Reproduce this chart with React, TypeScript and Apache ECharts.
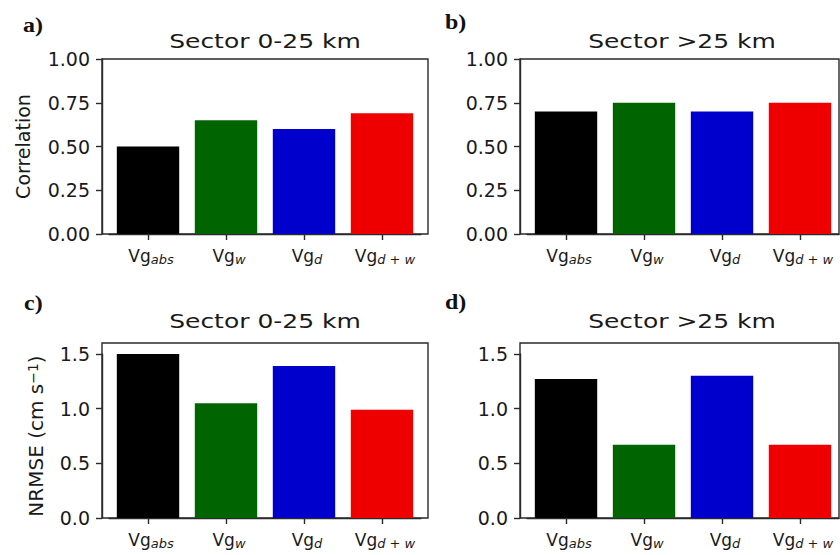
import React, { useEffect, useRef } from "react";
import * as echarts from "echarts";

const categorySubs = ["abs", "w", "d", "d + w"];
const corrNear = [0.5, 0.65, 0.6, 0.69];
const corrFar = [0.7, 0.75, 0.7, 0.75];
const nrmseNear = [1.5, 1.05, 1.39, 0.99];
const nrmseFar = [1.27, 0.67, 1.3, 0.67];
const barColors = ["#000000", "#006400", "#0000cc", "#ee0000"];
const panelTitles = ["Sector 0-25 km", "Sector >25 km", "Sector 0-25 km", "Sector >25 km"];
const panelLetters = ["a)", "b)", "c)", "d)"];
const yAxisMax = [1.0, 1.0, 1.6, 1.6];
const yTickMax = [1.0, 1.0, 1.5, 1.5];
const yTickStep = [0.25, 0.25, 0.5, 0.5];
const yDecimals = [2, 2, 1, 1];
const yNames = ["Correlation", "", "NRMSE (cm s{sup|−1})", ""];

const FONT = "DejaVu Sans";
const TXT = "#1a1a1a";
const FRAME = "#2a2a2a";

export default function App() {
  const ref = useRef<HTMLDivElement>(null);
  useEffect(() => {
    if (!ref.current) return;
    const chart = echarts.init(ref.current, null, { renderer: "svg" });

    const frames = [
      { left: 102, top: 59, width: 326, height: 175 },
      { left: 520, top: 59, width: 319, height: 175 },
      { left: 102, top: 343, width: 326, height: 175 },
      { left: 520, top: 343, width: 319, height: 175 },
    ];
    const xMin = -0.59;
    const xMax = [3.59, 3.5, 3.59, 3.5];
    const values = [corrNear, corrFar, nrmseNear, nrmseFar];

    const frameGrids = frames.map((f) => ({
      ...f,
      show: true,
      borderColor: FRAME,
      borderWidth: 1.4,
      backgroundColor: "transparent",
    }));
    const barGrids = frames.map((f, i) => {
      const u = f.width / (xMax[i] - xMin);
      return {
        left: f.left + (-0.5 - xMin) * u,
        width: 4 * u,
        top: f.top,
        height: f.height,
      };
    });
    const tickGrids = frames.map((f, i) => {
      const frac = yTickMax[i] / yAxisMax[i];
      return {
        left: f.left,
        width: f.width,
        top: f.top + f.height * (1 - frac),
        height: f.height * frac,
      };
    });

    const hiddenValue = (gridIndex: number) => ({
      type: "value",
      gridIndex,
      show: false,
      min: 0,
      max: 1,
    });

    const xAxis: any[] = [];
    const yAxis: any[] = [];
    for (let i = 0; i < 4; i++) {
      xAxis.push(hiddenValue(i));
      yAxis.push(hiddenValue(i));
    }
    for (let i = 0; i < 4; i++) {
      xAxis.push({
        type: "category",
        gridIndex: 4 + i,
        data: categorySubs,
        boundaryGap: true,
        axisLine: { show: true, lineStyle: { color: FRAME, width: 1.4 } },
        splitLine: { show: false },
        axisTick: {
          show: true,
          alignWithLabel: true,
          interval: 0,
          length: 6,
          lineStyle: { color: FRAME, width: 1.4 },
        },
        axisLabel: {
          interval: 0,
          margin: 12,
          padding: [0, 0, 0, 6],
          color: TXT,
          fontFamily: FONT,
          fontSize: 17,
          formatter: (v: string) => "{m|Vg}{s|" + v + "}",
          rich: {
            m: { fontSize: 17, fontFamily: FONT, color: TXT, lineHeight: 20 },
            s: {
              fontSize: 13,
              fontFamily: FONT,
              fontStyle: "italic",
              color: TXT,
              lineHeight: 13,
              verticalAlign: "bottom",
            },
          },
        },
      });
      yAxis.push({
        type: "value",
        gridIndex: 4 + i,
        show: false,
        min: 0,
        max: yAxisMax[i],
      });
    }
    for (let i = 0; i < 4; i++) {
      xAxis.push(hiddenValue(8 + i));
      yAxis.push({
        type: "value",
        gridIndex: 8 + i,
        min: 0,
        max: yTickMax[i],
        interval: yTickStep[i],
        axisLine: { show: true, onZero: false, lineStyle: { color: FRAME, width: 1.4 } },
        splitLine: { show: false },
        axisTick: {
          show: true,
          length: 6,
          lineStyle: { color: FRAME, width: 1.4 },
        },
        axisLabel: {
          margin: 12,
          color: TXT,
          fontFamily: FONT,
          fontSize: 19,
          formatter: (v: number) => v.toFixed(yDecimals[i]),
        },
        name: yNames[i],
        nameLocation: "middle",
        nameGap: i === 0 ? 70 : 56,
        nameTextStyle: {
          fontFamily: FONT,
          fontSize: i === 0 ? 19 : 20,
          color: TXT,
          rich: {
            sup: { fontFamily: FONT, fontSize: 14, color: TXT, verticalAlign: "top", lineHeight: 14 },
          },
        },
      });
    }

    const graphic: any[] = [];
    const titlePos = [
      [265, 41],
      [682, 41],
      [265, 321],
      [682, 321],
    ];
    const letterPos = [
      [23, 25],
      [445, 22],
      [24, 303],
      [445, 302],
    ];
    for (let i = 0; i < 4; i++) {
      graphic.push({
        type: "text",
        x: titlePos[i][0],
        y: titlePos[i][1],
        scaleX: 1.25,
        style: {
          text: panelTitles[i],
          fontFamily: FONT,
          fontSize: 20,
          fill: TXT,
          textAlign: "center",
          textVerticalAlign: "middle",
        },
      });
      graphic.push({
        type: "text",
        x: letterPos[i][0],
        y: letterPos[i][1],
        scaleX: 1.2,
        style: {
          text: panelLetters[i],
          fontFamily: "Liberation Serif",
          fontWeight: "bold",
          fontSize: 20,
          fill: "#111111",
          textAlign: "left",
          textVerticalAlign: "middle",
        },
      });
    }

    chart.setOption({
      animation: false,
      backgroundColor: "#ffffff",
      grid: [...frameGrids, ...barGrids, ...tickGrids],
      xAxis,
      yAxis,
      series: values.map((vals, i) => ({
        type: "bar",
        xAxisIndex: 4 + i,
        yAxisIndex: 4 + i,
        barWidth: "80%",
        data: vals.map((v, k) => ({
          value: v,
          itemStyle: { color: barColors[k] },
        })),
      })),
      graphic,
    });

    return () => chart.dispose();
  }, []);

  return (
    <div
      ref={ref}
      style={{ position: "fixed", left: 0, top: 0, width: 840, height: 555, background: "#fff" }}
    />
  );
}
